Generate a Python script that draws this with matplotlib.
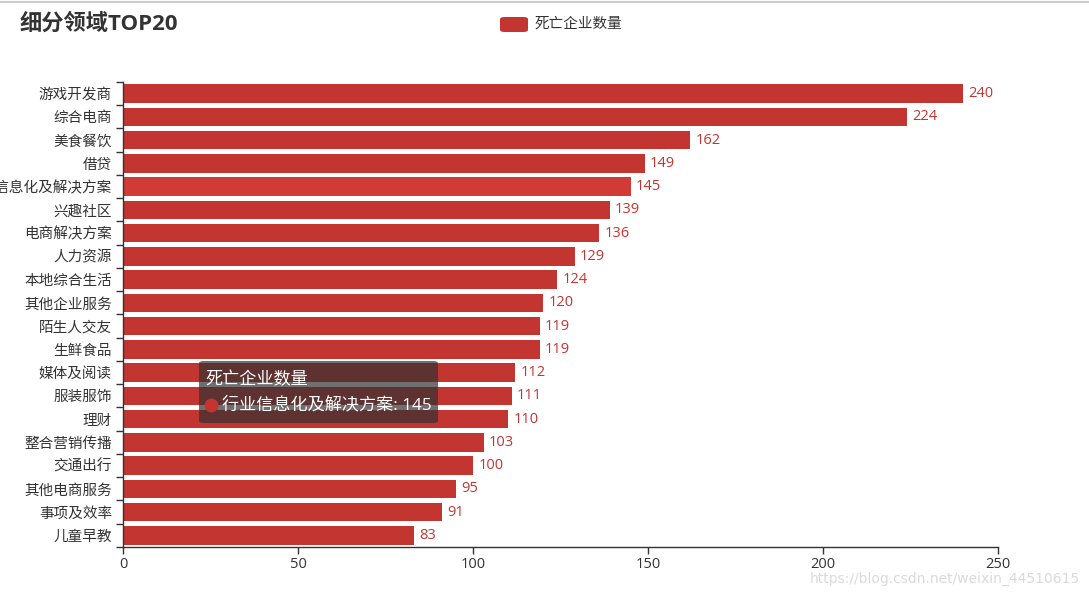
import matplotlib.pyplot as plt
import numpy as np
from matplotlib.patches import FancyBboxPatch
from matplotlib.lines import Line2D

plt.rcParams['font.family'] = ['Open Sans', 'Noto Sans CJK SC', 'DejaVu Sans']

# data, top to bottom
categories = ["游戏开发商", "综合电商", "美食餐饮", "借贷", "行业信息化及解决方案",
              "兴趣社区", "电商解决方案", "人力资源", "本地综合生活", "其他企业服务",
              "陌生人交友", "生鲜食品", "媒体及阅读", "服装服饰", "理财",
              "整合营销传播", "交通出行", "其他电商服务", "事项及效率", "儿童早教"]
values = [240, 224, 162, 149, 145, 139, 136, 129, 124, 120,
          119, 119, 112, 111, 110, 103, 100, 95, 91, 83]
series_name = "死亡企业数量"
highlight = "行业信息化及解决方案"

red = '#c23531'
hl_red = '#d13a35'
txt = '#333333'

W, H = 1089, 597
fig = plt.figure(figsize=(W / 100, H / 100), dpi=100)
ax = fig.add_axes([123 / W, 1 - 547 / H, (998 - 123) / W, (547 - 82) / H])

y = np.arange(len(categories))
colors = [hl_red if c == highlight else red for c in categories]
bars = ax.barh(y, values, height=0.8, color=colors)

for b, v in zip(bars, values):
    ax.annotate(str(v), (b.get_width(), b.get_y() + b.get_height() / 2),
                xytext=(4, 0), textcoords='offset points', va='center', ha='left',
                color=red, fontsize=10.5)

ax.set_xlim(0, 250)
ax.set_ylim(len(categories) - 0.5, -0.5)
ax.set_xticks([0, 50, 100, 150, 200, 250])
ax.tick_params(axis='x', colors=txt, labelsize=10.5, length=5, width=1, pad=2)

# y ticks at category boundaries, labels at centres
ax.set_yticks(np.arange(len(categories) + 1) - 0.5)
ax.set_yticklabels([])
ax.set_yticks(y, minor=True)
ax.set_yticklabels(categories, minor=True)
ax.tick_params(axis='y', which='major', length=5, width=1, color=txt)
ax.tick_params(axis='y', which='minor', length=0, labelsize=10.5, labelcolor=txt, pad=8)

for s in ['top', 'right']:
    ax.spines[s].set_visible(False)
for s in ['left', 'bottom']:
    ax.spines[s].set_color(txt)
    ax.spines[s].set_linewidth(1)

# title + legend
fig.text(20 / W, 1 - 24 / H, "细分领域TOP20", fontsize=16, fontweight='bold',
         color=txt, ha='left', va='center')
fig.patches.append(FancyBboxPatch((500 / W, 1 - 32 / H), 28 / W, 15 / H,
                                  boxstyle='round,pad=0,rounding_size=0.004',
                                  transform=fig.transFigure, facecolor=red,
                                  edgecolor='none'))
fig.text(535 / W, 1 - 24 / H, series_name, fontsize=10.5, color=txt,
         ha='left', va='center')

# frame line on top of the screenshot
fig.add_artist(Line2D([0, 1], [1 - 2 / H, 1 - 2 / H], color='#cccccc', lw=1.5,
                      transform=fig.transFigure))

# tooltip
hv = values[categories.index(highlight)]
fig.patches.append(FancyBboxPatch((199 / W, 1 - 423 / H), 239 / W, 62 / H,
                                  boxstyle='round,pad=0,rounding_size=0.004',
                                  transform=fig.transFigure,
                                  facecolor=(50 / 255, 50 / 255, 50 / 255, 0.7),
                                  edgecolor='none', zorder=5))
fig.text(205 / W, 1 - 380 / H, series_name, fontsize=12.3, color='white',
         ha='left', va='center', zorder=6)
fig.add_artist(Line2D([211 / W], [1 - 405 / H], marker='o', markersize=9,
                      color=red, transform=fig.transFigure, zorder=6))
fig.text(222 / W, 1 - 405 / H, f"{highlight}: {hv}", fontsize=12.3,
         color='white', ha='left', va='center', zorder=6)

# watermark
fig.text(1080 / W, 1 - 579 / H, "https://blog.csdn.net/weixin_44510615",
         fontsize=10, color='#dadada', ha='right', va='center',
         family=['DejaVu Sans'])

fig.savefig('out.png', dpi=100)
